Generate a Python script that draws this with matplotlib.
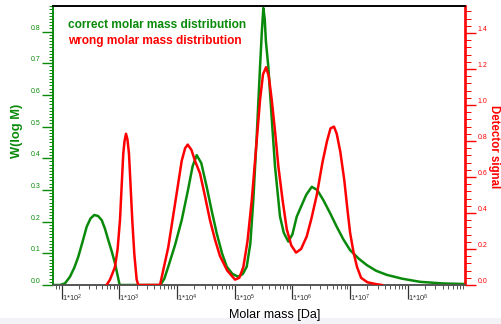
import matplotlib
matplotlib.use("Agg")
import matplotlib.pyplot as plt
import numpy as np
from matplotlib.ticker import FixedLocator, MultipleLocator, NullFormatter
from matplotlib.patches import Rectangle

plt.rcParams['font.family'] = ['Liberation Sans', 'DejaVu Sans']
plt.rcParams['mathtext.default'] = 'regular'

# correct (green, left axis W(log M)) : log10(M), value
green_logm = [1.85, 1.97, 2.057, 2.144, 2.22, 2.288, 2.36, 2.434, 2.50, 2.565, 2.63, 2.694,
              2.75, 2.808, 2.87, 2.924, 2.97, 3.005, 3.71, 3.78, 3.848, 3.965, 4.081, 4.19,
              4.27, 4.341, 4.42, 4.514, 4.60, 4.688, 4.78, 4.861, 4.96, 5.062, 5.14, 5.208,
              5.27, 5.322, 5.381, 5.439, 5.47, 5.496, 5.52, 5.54, 5.582, 5.64, 5.699, 5.785,
              5.85, 5.929, 6.0, 6.075, 6.132, 6.24, 6.335, 6.43, 6.536, 6.65, 6.768, 6.88,
              7.0, 7.15, 7.289, 7.45, 7.636, 7.9, 8.213, 8.6, 9.0]
green_w = [0.0, 0.0, 0.005, 0.026, 0.055, 0.089, 0.135, 0.184, 0.210, 0.221, 0.218, 0.205,
           0.178, 0.142, 0.105, 0.069, 0.030, 0.0, 0.0, 0.020, 0.058, 0.126, 0.205, 0.300,
           0.375, 0.410, 0.385, 0.310, 0.235, 0.163, 0.100, 0.058, 0.035, 0.026, 0.035, 0.058,
           0.130, 0.268, 0.470, 0.690, 0.800, 0.875, 0.840, 0.770, 0.690, 0.530, 0.373, 0.216,
           0.165, 0.137, 0.160, 0.216, 0.240, 0.285, 0.310, 0.300, 0.268, 0.228, 0.184, 0.145,
           0.110, 0.083, 0.063, 0.045, 0.032, 0.020, 0.010, 0.005, 0.003]

# wrong (red, right axis detector signal): log10(M), value
red_logm = [2.78, 2.838, 2.924, 2.97, 3.011, 3.04, 3.068, 3.09, 3.115, 3.14, 3.167, 3.195,
            3.224, 3.26, 3.30, 3.328, 3.705, 3.848, 3.965, 4.081, 4.14, 4.185, 4.25, 4.311,
            4.398, 4.48, 4.571, 4.66, 4.745, 4.87, 5.005, 5.08, 5.149, 5.22, 5.295, 5.37,
            5.439, 5.49, 5.543, 5.59, 5.641, 5.70, 5.756, 5.83, 5.902, 5.98, 6.063, 6.15,
            6.248, 6.33, 6.422, 6.52, 6.60, 6.66, 6.72, 6.768, 6.83, 6.90, 6.95, 7.0,
            7.06, 7.12, 7.19, 7.30, 7.45, 7.55]
red_s = [0.0, 0.03, 0.10, 0.20, 0.36, 0.55, 0.73, 0.80, 0.84, 0.81, 0.73, 0.55,
         0.36, 0.17, 0.03, 0.0, 0.0, 0.21, 0.45, 0.69, 0.76, 0.78, 0.75, 0.69,
         0.62, 0.50, 0.36, 0.25, 0.16, 0.08, 0.03, 0.04, 0.10, 0.24, 0.47, 0.76,
         1.03, 1.17, 1.21, 1.16, 1.03, 0.85, 0.66, 0.47, 0.31, 0.22, 0.18, 0.20,
         0.27, 0.37, 0.50, 0.68, 0.80, 0.87, 0.88, 0.84, 0.74, 0.58, 0.43, 0.29,
         0.18, 0.10, 0.04, 0.015, 0.005, 0.0]

x_decades = [2, 3, 4, 5, 6, 7, 8]
left_ticks = [0.0, 0.1, 0.2, 0.3, 0.4, 0.5, 0.6, 0.7, 0.8]
right_ticks = [0.0, 0.2, 0.4, 0.6, 0.8, 1.0, 1.2, 1.4]

GREEN = '#0a8a0a'
RED = '#ff0000'

fig = plt.figure(figsize=(5.01, 3.24), dpi=100)
fig.patches.append(Rectangle((0, 0), 1, 6/324, transform=fig.transFigure,
                             facecolor='#f2f2f7', edgecolor='none', zorder=-10))
ax = fig.add_axes([53/501, 1-285/324, (465.5-53)/501, (285-6)/324])
ax2 = ax.twinx()

ax.plot(10**np.array(green_logm), green_w, color=GREEN, lw=1.8, zorder=3)
ax2.plot(10**np.array(red_logm), red_s, color=RED, lw=1.8, zorder=3)

ax.set_xscale('log')
ax.set_xlim(10**1.85, 10**9.0)
ax.set_ylim(0, 0.881)
ax2.set_ylim(0, 1.55)

# x ticks
ax.xaxis.set_major_locator(FixedLocator([10.0**d for d in x_decades]))
ax.set_xticklabels([r'1*10$^{%d}$' % d for d in x_decades], fontsize=5.5, color='#333333')
for lab in ax.get_xticklabels():
    lab.set_ha('left')
minor_x = [m * 10.0**d for d in range(1, 9) for m in range(2, 10)]
ax.xaxis.set_minor_locator(FixedLocator(minor_x))
ax.xaxis.set_minor_formatter(NullFormatter())
ax.tick_params(axis='x', which='major', direction='out', length=10, width=0.9,
               color='#333333', pad=-4.5)
ax.tick_params(axis='x', which='minor', direction='out', length=3, width=0.7, color='#555555')

# left y
ax.yaxis.set_major_locator(FixedLocator(left_ticks))
ax.set_yticklabels(['%.1f' % v for v in left_ticks], fontsize=5, color=GREEN)
for lab in ax.get_yticklabels():
    lab.set_va('bottom')
ax.yaxis.set_minor_locator(MultipleLocator(0.01))
ax.tick_params(axis='y', which='major', direction='out', length=8, width=1.0, color=GREEN, pad=1)
ax.tick_params(axis='y', which='minor', direction='out', length=3, width=0.7, color=GREEN)

# right y
ax2.yaxis.set_major_locator(FixedLocator(right_ticks))
ax2.set_yticklabels(['%.1f' % v for v in right_ticks], fontsize=5, color=RED)
for lab in ax2.get_yticklabels():
    lab.set_va('bottom')
ax2.yaxis.set_minor_locator(MultipleLocator(0.04))
ax2.tick_params(axis='y', which='major', direction='out', length=8, width=1.0, color=RED, pad=0.5)
ax2.tick_params(axis='y', which='minor', direction='out', length=4, width=0.7, color=RED)

for a in (ax, ax2):
    a.spines['left'].set_color(GREEN)
    a.spines['left'].set_linewidth(1.2)
    a.spines['right'].set_color(RED)
    a.spines['right'].set_linewidth(1.2)
    a.spines['top'].set_color('black')
    a.spines['top'].set_linewidth(1.2)
    a.spines['bottom'].set_color('#555555')
    a.spines['bottom'].set_linewidth(1.2)

ax.text(68/501, 1-25/324, 'correct molar mass distribution', transform=fig.transFigure,
        color=GREEN, fontsize=8.6, fontweight='bold', va='center', ha='left')
ax.text(68/501, 1-41/324, 'wrong molar mass distribution', transform=fig.transFigure,
        color=RED, fontsize=8.6, fontweight='bold', va='center', ha='left')

fig.text(17/501, 1-131/324, 'W(log M)', rotation=90, color=GREEN, fontsize=9.3,
         fontweight='bold', ha='center', va='center')
fig.text(494.5/501, 1-147/324, 'Detector signal', rotation=270, color=RED, fontsize=8.3,
         fontweight='bold', ha='center', va='center')
fig.text(275/501, 1-315/324, 'Molar mass [Da]', color='black', fontsize=9,
         ha='center', va='center')

fig.savefig('out.png', dpi=100)
